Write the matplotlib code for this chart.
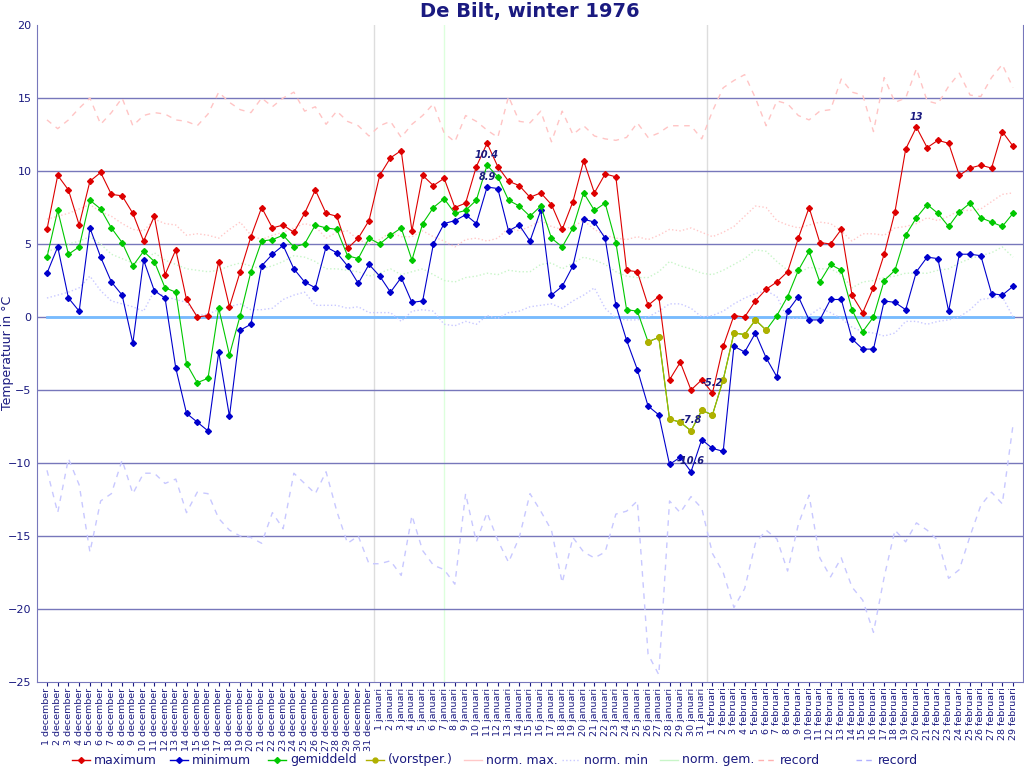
"""De Bilt, winter 1976 - daily temperatures with normals and records"""
import matplotlib
matplotlib.use('Agg')
import matplotlib.pyplot as plt
from matplotlib.lines import Line2D
import numpy as np

NAVY = '#1a1a80'
GRID = '#7777bb'

# day labels (Dec 1 .. Feb 29, 1976 is a leap year)
labels = ([f'{d} december' for d in range(1, 32)] +
          [f'{d} januari' for d in range(1, 32)] +
          [f'{d} februari' for d in range(1, 30)])

maximum = [6.0, 9.7, 8.7, 6.3, 9.3, 9.9, 8.4, 8.3, 7.1, 5.2, 6.9, 2.9, 4.6, 1.2, 0.0, 0.1,
           3.8, 0.7, 3.1, 5.5, 7.5, 6.1, 6.3, 5.8, 7.1, 8.7, 7.1, 6.9, 4.7, 5.4, 6.6,
           9.7, 10.9, 11.4, 5.9, 9.7, 9.0, 9.5, 7.5, 7.8, 10.3, 11.9, 10.3, 9.3, 9.0, 8.2, 8.5,
           7.7, 6.0, 7.9, 10.7, 8.5, 9.8, 9.6, 3.2, 3.1, 0.8, 1.4, -4.3, -3.1, -5.0, -4.3,
           -5.2, -2.0, 0.1, 0.0, 1.1, 1.9, 2.4, 3.1, 5.4, 7.5, 5.1, 5.0, 6.0, 1.5, 0.3,
           2.0, 4.3, 7.2, 11.5, 13.0, 11.6, 12.1, 11.9, 9.7, 10.2, 10.4, 10.2, 12.7, 11.7]

minimum = [3.0, 4.8, 1.3, 0.4, 6.1, 4.1, 2.4, 1.5, -1.8, 3.9, 1.8, 1.3, -3.5, -6.6, -7.2, -7.8,
           -2.4, -6.8, -0.9, -0.5, 3.5, 4.3, 4.9, 3.3, 2.4, 2.0, 4.8, 4.4, 3.5, 2.3, 3.6,
           2.8, 1.7, 2.7, 1.0, 1.1, 5.0, 6.4, 6.6, 7.0, 6.4, 8.9, 8.8, 5.9, 6.3, 5.2, 7.3,
           1.5, 2.1, 3.5, 6.7, 6.5, 5.4, 0.8, -1.6, -3.6, -6.1, -6.7, -10.1, -9.6, -10.6, -8.4,
           -9.0, -9.2, -2.0, -2.4, -1.1, -2.8, -4.1, 0.4, 1.4, -0.2, -0.2, 1.2, 1.2, -1.5, -2.2,
           -2.2, 1.1, 1.0, 0.5, 3.1, 4.1, 4.0, 0.4, 4.3, 4.3, 4.2, 1.6, 1.5, 2.1]

gemiddeld = [4.1, 7.3, 4.3, 4.8, 8.0, 7.4, 6.1, 5.1, 3.5, 4.5, 3.8, 2.0, 1.7, -3.2, -4.5, -4.2,
             0.6, -2.6, 0.1, 3.1, 5.2, 5.3, 5.6, 4.8, 5.0, 6.3, 6.1, 6.0, 4.2, 4.0, 5.4,
             5.0, 5.6, 6.1, 3.9, 6.4, 7.5, 8.1, 7.1, 7.3, 8.0, 10.4, 9.6, 8.0, 7.6, 6.9, 7.6,
             5.4, 4.8, 6.1, 8.5, 7.3, 7.8, 5.1, 0.5, 0.4, -1.7, -1.4, -7.0, -7.2, -7.8, -6.4,
             -6.7, -4.3, -1.1, -1.2, -0.2, -0.9, 0.1, 1.4, 3.2, 4.5, 2.4, 3.6, 3.2, 0.5, -1.0,
             0.0, 2.5, 3.2, 5.6, 6.8, 7.7, 7.1, 6.2, 7.2, 7.8, 6.8, 6.5, 6.2, 7.1]

# frost period (vorstperiode): 26 januari .. 6 februari
vorst_first, vorst_last = 56, 67

norm_max = [6.7, 6.9, 7.1, 7.4, 7.7, 7.2, 6.9, 6.4, 6.0, 5.9, 6.7, 6.4, 6.3, 5.6, 5.7, 5.6,
            5.4, 6.0, 6.5, 5.6, 5.3, 5.6, 5.8, 6.1, 6.4, 6.2, 5.4, 5.8, 5.9, 5.3, 5.0,
            5.3, 5.8, 5.5, 5.5, 5.9, 5.5, 5.2, 4.8, 5.3, 5.4, 5.2, 5.4, 6.1, 5.9, 6.2, 6.6,
            6.2, 6.0, 6.2, 6.6, 6.0, 5.6, 5.4, 5.3, 5.5, 5.3, 5.6, 6.0, 5.9, 6.1, 5.8,
            5.5, 5.8, 6.2, 6.9, 7.6, 7.5, 6.6, 6.3, 6.1, 6.3, 6.5, 6.4, 5.9, 5.2, 5.7,
            5.7, 5.6, 6.1, 6.2, 6.4, 6.8, 6.6, 6.9, 7.3, 7.3, 7.4, 7.9, 8.4, 8.5]

norm_min = [1.3, 1.5, 1.7, 2.0, 2.8, 1.8, 1.1, 0.9, 0.7, 0.4, 1.8, 1.4, 1.2, 1.0, 0.1, 0.2,
            0.5, 0.7, 0.9, 0.5, 0.5, 0.6, 1.2, 1.5, 1.7, 0.8, 0.8, 0.8, 0.6, 0.7, 0.3,
            0.3, 0.3, -0.3, 0.4, 0.5, 0.4, -0.5, -0.6, -0.3, -0.5, 0.1, -0.1, 0.3, 0.4, 0.7, 0.8,
            0.9, 0.6, 1.1, 1.5, 2.0, 0.6, -0.1, -0.2, -0.2, 0.0, 0.4, 0.9, 0.9, 0.6, 0.0,
            0.1, 0.4, 0.9, 1.3, 1.6, 1.8, 1.4, -0.1, -0.1, 0.1, 0.6, 0.3, -0.1, -0.7, -1.0,
            -1.1, -1.3, -1.1, -0.3, -0.3, -0.5, -0.3, -0.2, 0.0, 0.5, 1.2, 1.3, 1.4, 0.0]

norm_gem = [4.5, 4.7, 5.0, 5.2, 5.5, 5.0, 4.3, 4.0, 3.7, 3.8, 4.4, 3.9, 3.6, 3.3, 3.2, 3.1,
            3.2, 3.5, 3.7, 3.5, 3.3, 3.5, 3.8, 4.2, 4.1, 3.8, 3.3, 3.3, 3.2, 3.1, 2.8,
            3.0, 3.3, 2.9, 3.1, 3.3, 2.9, 2.5, 2.4, 2.7, 2.8, 3.0, 2.9, 3.2, 3.1, 3.1, 3.6,
            3.7, 3.3, 3.7, 4.1, 3.9, 3.6, 3.1, 2.8, 2.7, 2.7, 3.1, 3.8, 3.5, 3.3, 3.0,
            2.9, 3.2, 3.6, 4.0, 4.6, 4.5, 3.8, 3.2, 3.0, 3.4, 3.3, 3.3, 2.9, 2.0, 2.4,
            2.5, 2.7, 2.8, 3.0, 3.0, 3.0, 3.2, 3.3, 3.7, 4.0, 4.2, 4.4, 4.8, 4.1]

record_max = [13.5, 12.9, 13.5, 14.3, 15.0, 13.2, 14.0, 15.0, 13.1, 13.8, 14.0, 13.9, 13.5, 13.4,
              13.1, 13.9, 15.4, 14.7, 14.2, 14.0, 15.0, 14.4, 15.0, 15.4, 14.1, 14.4, 13.2, 14.1,
              13.4, 13.1, 12.4,
              13.1, 13.4, 12.3, 13.2, 13.8, 14.6, 12.6, 12.0, 13.8, 13.4, 12.8, 12.3, 15.1, 13.4,
              13.3, 14.1, 12.0, 14.1, 12.5, 13.1, 12.4, 12.2, 12.1, 12.3, 13.3, 12.3, 12.6, 13.1,
              13.1, 13.1, 12.2,
              14.1, 15.7, 16.2, 16.6, 15.0, 13.1, 14.8, 14.6, 13.8, 13.5, 14.1, 14.2, 16.3, 15.4,
              15.2, 12.7, 16.4, 14.7, 15.0, 17.0, 14.8, 14.6, 15.8, 16.7, 15.2, 15.1, 16.4, 17.3,
              15.7]

record_min = [-10.5, -13.4, -9.7, -11.5, -16.1, -12.6, -12.1, -9.8, -12.1, -10.7, -10.7, -11.4,
              -11.1, -13.4, -12.0, -12.1, -13.8, -14.6, -15.0, -15.1, -15.5, -13.4, -14.5, -10.7,
              -11.4, -12.1, -10.6, -13.3, -15.5, -15.0, -16.9,
              -16.9, -16.7, -17.7, -13.6, -16.0, -17.0, -17.3, -18.3, -12.1, -15.4, -13.4, -15.3,
              -16.8, -15.1, -12.1, -13.3, -14.6, -18.2, -15.1, -16.1, -16.5, -16.1, -13.5, -13.3,
              -12.6, -23.1, -24.5, -12.6, -13.4, -12.3, -13.1,
              -16.2, -17.5, -19.9, -18.6, -15.5, -14.6, -15.2, -17.4, -14.2, -12.2, -16.5, -17.8,
              -16.5, -18.5, -19.4, -21.6, -17.8, -14.6, -15.4, -14.1, -14.6, -15.3, -17.9, -17.3,
              -15.0, -12.9, -12.0, -12.8, -7.4]

x = np.arange(len(labels))

fig = plt.figure(figsize=(10.24, 7.68), dpi=100)
ax = fig.add_axes([37 / 1024, 1 - 682 / 768, 986 / 1024, 657 / 768])

# month boundaries and marker line
ax.axvline(30.5, color='#dddddd', lw=1, zorder=1)
ax.axvline(61.5, color='#dddddd', lw=1, zorder=1)
ax.axvline(37, color='#ddffdd', lw=1, zorder=1)

for v in range(-20, 20, 5):
    ax.axhline(v, color=GRID, lw=1, zorder=1)
ax.plot([x[0], x[-1]], [0, 0], color='#77bbff', lw=2, zorder=2)

# normals and records
ax.plot(x, norm_max, color='#ffc8c8', lw=1, ls=':', zorder=2)
ax.plot(x, norm_min, color='#c8c8ff', lw=1, ls=':', zorder=2)
ax.plot(x, norm_gem, color='#c8f5c8', lw=1, ls=':', zorder=2)
ax.plot(x, record_max, color='#ffc4c4', lw=1, dashes=(4, 4), zorder=2)
ax.plot(x, record_min, color='#c8c8ff', lw=1, dashes=(4, 4), zorder=2)

# measured series
mk = dict(marker='D', ms=3.0, lw=0.8, zorder=4)
ax.plot(x, maximum, color='#dd0000', **mk)
ax.plot(x, minimum, color='#0000cc', **mk)
ax.plot(x, gemiddeld, color='#00c800', **mk)
vs = slice(vorst_first, vorst_last + 1)
ax.plot(x[vs], np.array(gemiddeld)[vs], color='#b0b000', marker='o', ms=4, lw=0.8, zorder=5)

# extreme value labels
for series in (maximum, gemiddeld, minimum):
    arr = np.array(series)
    for idx in (int(np.argmax(arr)), int(np.argmin(arr))):
        ax.annotate(f'{arr[idx]:g}', (x[idx], arr[idx]), xytext=(0, 7.5),
                    textcoords='offset points', ha='center', va='center',
                    fontsize=7, fontweight='bold', fontstyle='italic', color=NAVY, zorder=6)

ax.set_xlim(-0.93, 90.93)
ax.set_ylim(-25, 20)
ax.set_yticks(range(-25, 21, 5))
ax.set_xticks(x)
ax.set_xticklabels(labels, rotation=90, fontsize=6.8, color=NAVY)
ax.tick_params(axis='y', length=0, pad=4, labelsize=8, labelcolor=NAVY)
ax.tick_params(axis='x', length=3, width=0.8, color=NAVY, pad=1)
for side in ('left', 'right', 'bottom'):
    ax.spines[side].set_color(GRID)
ax.spines['top'].set_visible(False)

fig.text(530 / 1024, 1 - 11 / 768, 'De Bilt, winter 1976', ha='center', va='center',
         fontsize=14, fontweight='bold', color=NAVY)
fig.text(8 / 1024, 1 - 353 / 768, 'Temperatuur in °C', rotation=90,
         ha='center', va='center', fontsize=9, color=NAVY)

# legend, evenly spaced along the bottom
legend_items = [
    ('maximum', dict(color='#dd0000'), dict(marker='D', ms=3)),
    ('minimum', dict(color='#0000cc'), dict(marker='D', ms=3)),
    ('gemiddeld', dict(color='#00c800'), dict(marker='D', ms=3)),
    ('(vorstper.)', dict(color='#b0b000'), dict(marker='o', ms=3.5)),
    ('norm. max.', dict(color='#ffc8c8'), None),
    ('norm. min', dict(color='#c8c8ff', ls=':'), None),
    ('norm. gem.', dict(color='#c8f5c8'), None),
    ('record', dict(color='#ffb0b0', dashes=(4, 3)), None),
    ('record', dict(color='#b0b0ff', dashes=(4, 3)), None),
]
yl = 1 - 760 / 768
for k, (name, style, marker) in enumerate(legend_items):
    x0 = 72 + 98 * k
    fig.add_artist(Line2D([x0 / 1024, (x0 + 18) / 1024], [yl, yl], lw=1,
                          transform=fig.transFigure, **style))
    if marker:
        fig.add_artist(Line2D([(x0 + 9) / 1024], [yl], lw=0, color=style['color'],
                              transform=fig.transFigure, **marker))
    fig.text((x0 + 22) / 1024, yl, name, ha='left', va='center', fontsize=9, color=NAVY)

fig.savefig('out.png', dpi=100)
